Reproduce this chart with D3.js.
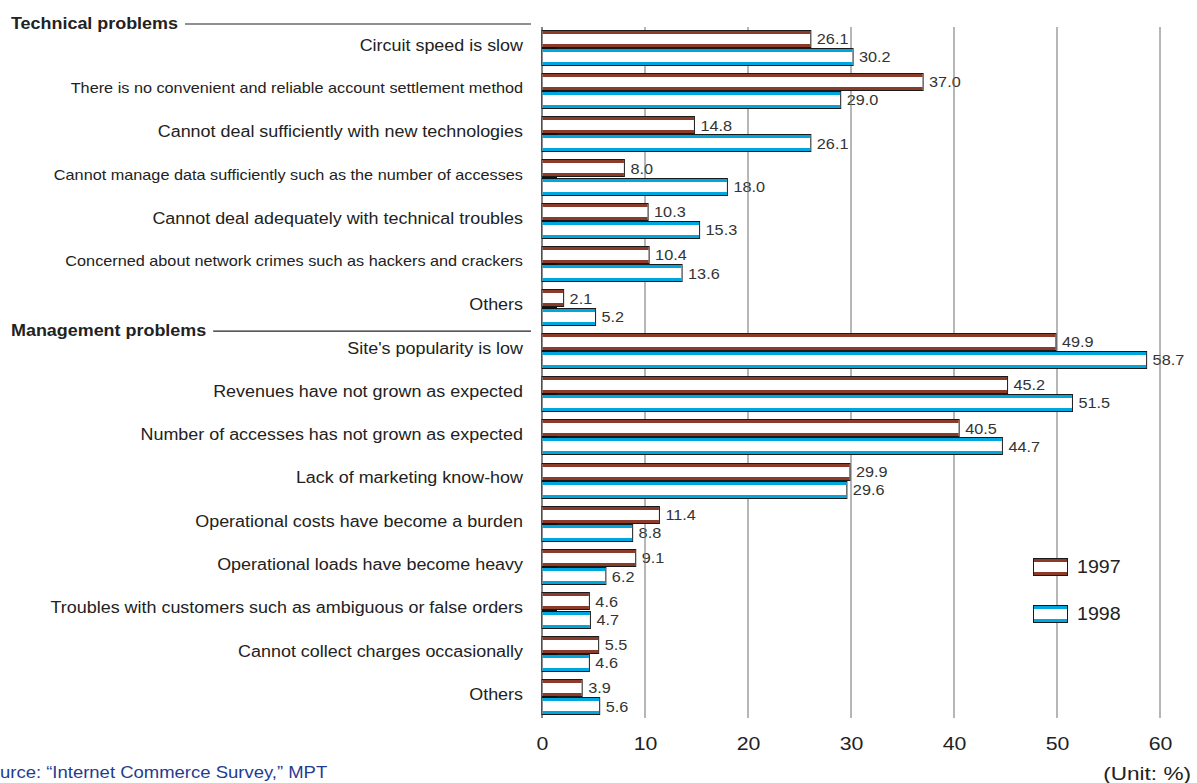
<!DOCTYPE html>
<html>
<head>
<meta charset="utf-8">
<script src="https://cdn.jsdelivr.net/npm/d3@7"></script>
<style>
  html, body { margin: 0; padding: 0; background: #fff; }
  svg { display: block; font-family: "Liberation Sans", Arial, Helvetica, sans-serif; }
</style>
</head>
<body>
<svg id="chart" width="1197" height="783"></svg>
<script>
// Problems in operating an electronic commerce site (multiple answers)
const categories = [
  "Circuit speed is slow",
  "There is no convenient and reliable account settlement method",
  "Cannot deal sufficiently with new technologies",
  "Cannot manage data sufficiently such as the number of accesses",
  "Cannot deal adequately with technical troubles",
  "Concerned about network crimes such as hackers and crackers",
  "Others",
  "Site's popularity is low",
  "Revenues have not grown as expected ",
  "Number of accesses has not grown as expected",
  "Lack of marketing know-how",
  "Operational costs have become a burden",
  "Operational loads have become heavy",
  "Troubles with customers such as ambiguous or false orders",
  "Cannot collect charges occasionally",
  "Others"
];
const values1997 = [26.1, 37.0, 14.8, 8.0, 10.3, 10.4, 2.1, 49.9, 45.2, 40.5, 29.9, 11.4, 9.1, 4.6, 5.5, 3.9];
const values1998 = [30.2, 29.0, 26.1, 18.0, 15.3, 13.6, 5.2, 58.7, 51.5, 44.7, 29.6, 8.8, 6.2, 4.7, 4.6, 5.6];
const seriesNames = ["1997", "1998"];
const groupNames = ["Technical problems", "Management problems"];
const groupStart = [0, 7];            // first category index of each group
const xTicks = [0, 10, 20, 30, 40, 50, 60];
const sourceNote = "Source: \u201cInternet Commerce Survey,\u201d MPT";
const unitNote = "(Unit: %)";

// the long technical items are set a little smaller
const labelSize = i => ([1, 3, 5].includes(i) ? 14.5 : 16);

const colors = { "1997": "#8a3b2a", "1998": "#00a6de" };

// the typeface is set slightly wide
const WIDEN = 1.12;
function widen(sel, k = WIDEN) {
  sel.each(function () {
    const len = this.getComputedTextLength();
    d3.select(this).attr("textLength", len * k).attr("lengthAdjust", "spacingAndGlyphs");
  });
  return sel;
}

const svg = d3.select("#chart");
const plotLeft = 542, plotRight = 1160, plotTop = 27, plotBottom = 718;

const x = d3.scaleLinear().domain([0, 60]).range([plotLeft, plotRight]);
const y = d3.scaleBand()
  .domain(d3.range(categories.length))
  .range([plotTop, plotBottom])
  .paddingInner(0.16)
  .paddingOuter(0.06);
const ySub = d3.scaleBand().domain(seriesNames).range([0, y.bandwidth()]);

const rows = categories.map((c, i) => ({
  i, label: c,
  vals: [{ s: "1997", v: values1997[i] }, { s: "1998", v: values1998[i] }]
}));

// value labels (sit beneath the grid lines)
const valueLayer = svg.append("g");
rows.forEach(r => {
  r.vals.forEach(d => {
    valueLayer.append("text")
      .attr("x", x(d.v) + 6)
      .attr("y", y(r.i) + ySub(d.s) + ySub.bandwidth() / 2)
      .attr("dy", "0.36em")
      .attr("font-size", 14.5)
      .attr("fill", "#333")
      .text(d.v.toFixed(1))
      .call(widen);
  });
});

// grid lines
const grid = svg.append("g");
grid.selectAll("line.g").data(xTicks.slice(1)).join("line")
  .attr("x1", d => x(d)).attr("x2", d => x(d))
  .attr("y1", plotTop).attr("y2", plotBottom)
  .attr("stroke", "#6e6e6e").attr("stroke-width", 1);
grid.append("line")
  .attr("x1", x(0)).attr("x2", x(0))
  .attr("y1", plotTop).attr("y2", plotBottom)
  .attr("stroke", "#333").attr("stroke-width", 1.2);

// x tick labels
const xAxis = d3.axisBottom(x).tickValues(xTicks).tickSize(0).tickPadding(0).tickFormat(d3.format("d"));
const axisG = svg.append("g").attr("transform", `translate(0,${plotBottom + 18})`).call(xAxis);
axisG.select(".domain").remove();
axisG.selectAll("text").attr("font-size", 19).attr("fill", "#222")
  .attr("font-family", "Liberation Sans, Arial, sans-serif")
  .call(widen);

// bars: white body with coloured bands along the top and bottom edges
function drawBar(g, x0, y0, w, h, color) {
  g.append("rect").attr("x", x0).attr("y", y0).attr("width", w).attr("height", h)
    .attr("fill", "#fff").attr("stroke", "#1a1a1a").attr("stroke-width", 1);
  g.append("rect").attr("x", x0 + 0.5).attr("y", y0 + 0.5).attr("width", Math.max(0, w - 1)).attr("height", 3)
    .attr("fill", color);
  g.append("rect").attr("x", x0 + 0.5).attr("y", y0 + h - 3.5).attr("width", Math.max(0, w - 1)).attr("height", 3)
    .attr("fill", color);
}

const bars = svg.append("g");
rows.forEach(r => {
  r.vals.forEach(d => {
    const y0 = Math.round(y(r.i) + ySub(d.s)) + 0.5;
    const h = Math.round(ySub.bandwidth()) - 1;
    drawBar(bars, x(0), y0, x(d.v) - x(0), h, colors[d.s]);
  });
  // small dark edge at the foot of the first bar
  bars.append("rect")
    .attr("x", x(0)).attr("y", Math.round(y(r.i) + ySub("1998")) - 1)
    .attr("width", 15).attr("height", 2)
    .attr("fill", "#111");
});

// category labels
const labels = svg.append("g");
rows.forEach(r => {
  labels.append("text")
    .attr("x", 523)
    .attr("y", y(r.i) + y.bandwidth() / 2 - 3)
    .attr("dy", "0.36em")
    .attr("text-anchor", "end")
    .attr("font-size", labelSize(r.i))
    .attr("fill", "#222")
    .text(r.label)
    .call(widen);
});

// group headers with leader lines
groupNames.forEach((name, gi) => {
  const idx = groupStart[gi];
  const yy = gi === 0 ? plotTop - 4 : y(idx) - 2.5;
  const t = svg.append("text")
    .attr("x", 11).attr("y", yy).attr("dy", "0.36em")
    .attr("font-size", 16).attr("font-weight", "bold").attr("fill", "#222")
    .text(name)
    .call(widen);
  const w = +t.attr("textLength");
  svg.append("line")
    .attr("x1", 11 + w + 7).attr("x2", 531)
    .attr("y1", yy + 1).attr("y2", yy + 1)
    .attr("stroke", "#222").attr("stroke-width", 1.2);
});

// legend
const legend = svg.append("g");
seriesNames.forEach((s, i) => {
  const ly = 558 + i * 47;
  drawBar(legend, 1033.5, ly + 0.5, 34, 17, colors[s]);
  legend.append("text")
    .attr("x", 1077).attr("y", ly + 9).attr("dy", "0.36em")
    .attr("font-size", 17.5).attr("fill", "#222")
    .text(s)
    .call(widen);
});

// notes
const src = svg.append("text")
  .attr("y", 772).attr("dy", "0.36em")
  .attr("font-size", 16.5).attr("fill", "#1f3d8f")
  .text(sourceNote)
  .call(widen);
// the leading "So" runs off the left edge
const soWidth = src.node().getSubStringLength(0, 2);
src.attr("x", -soWidth);

svg.append("text")
  .attr("x", 1191).attr("y", 773).attr("dy", "0.36em")
  .attr("text-anchor", "end")
  .attr("font-size", 18.5).attr("fill", "#222")
  .text(unitNote)
  .call(widen, 1.22);
</script>
</body>
</html>
